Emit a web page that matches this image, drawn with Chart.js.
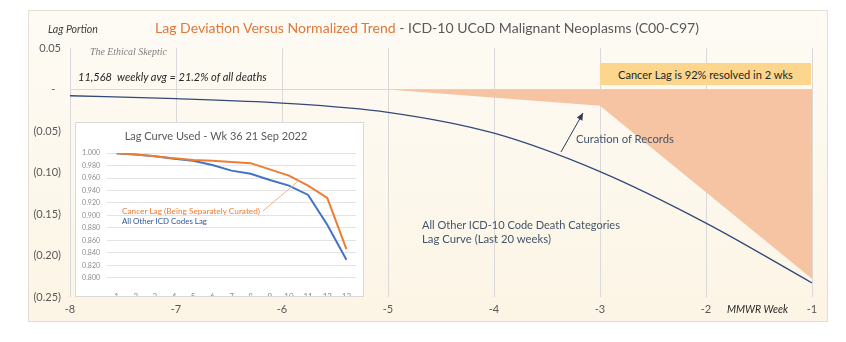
<!DOCTYPE html>
<html><head><meta charset="utf-8">
<script src="https://cdn.jsdelivr.net/npm/chart.js@4.4.0/dist/chart.umd.min.js"></script>
<style>
html,body{margin:0;padding:0;background:#fff;overflow:hidden;}
#wrap{position:relative;width:846px;height:342px;font-family:Lato,'Open Sans',sans-serif;}
#main{position:absolute;left:0;top:0;}
.t{position:absolute;white-space:nowrap;line-height:1;transform:translateY(-50%);}
#inset{position:absolute;left:75px;top:122px;width:289px;height:175px;border:1px solid #D9D9D9;box-sizing:border-box;background:#fff;}
#insetCanvas{position:absolute;left:0;top:0;}
#cbox{position:absolute;left:600px;top:63px;width:211px;height:22px;background:#FCD68C;}
</style></head>
<body><div id="wrap">
<canvas id="main" width="846" height="342"></canvas>
<div id="cbox"></div>
<div id="inset"><canvas id="insetCanvas" width="287" height="173"></canvas></div>

<div class="t" data-w="50" style="left:48px;top:29px;font-size:11px;font-style:italic;color:#404040;">Lag Portion</div>
<div class="t" data-w="544" style="left:155px;top:28px;font-size:16px;"><span style="color:#E2773A">Lag Deviation Versus Normalized Trend</span><span style="color:#595959"> - ICD-10 UCoD Malignant Neoplasms (C00-C97)</span></div>
<div class="t" data-w="77" style="left:90px;top:52px;font-size:10px;font-style:italic;color:#808080;font-family:'Liberation Serif',serif;">The Ethical Skeptic</div>
<div class="t" data-w="189" style="left:78px;top:77px;font-size:12px;font-style:italic;color:#262626;">11,568&nbsp; weekly avg = 21.2% of all deaths</div>
<div class="t" data-w="175" style="left:618px;top:75px;font-size:12px;color:#262626;">Cancer Lag is 92% resolved in 2 wks</div>
<div class="t" data-w="98" style="left:576px;top:139px;font-size:12px;color:#44546A;">Curation of Records</div>
<div class="t" data-w="198" style="left:422px;top:225px;font-size:12px;color:#44546A;">All Other ICD-10 Code Death Categories</div>
<div class="t" data-w="129" style="left:422px;top:239px;font-size:12px;color:#44546A;">Lag Curve (Last 20 weeks)</div>
<div class="t" data-w="61" style="left:727px;top:309px;font-size:11px;font-style:italic;color:#262626;">MMWR Week</div>
<div class="t" data-w="138" style="left:122px;top:211px;font-size:9px;color:#ED7D31;">Cancer Lag (Being Separately Curated)</div>
<div class="t" data-w="85" style="left:122px;top:222px;font-size:9px;color:#2F5597;">All Other ICD Codes Lag</div>
</div>
<script>
// ---- main chart data ----
const weeks = [-8, -7, -6, -5, -4, -3, -2, -1];
const otherCodesLag = [-0.0075, -0.0110, -0.0163, -0.0275, -0.0527, -0.0990, -0.1610, -0.2330];
const cancerWeeks = [-5, -3, -1];
const cancerLag = [0, -0.0195, -0.228];
const xTickValues = [-8, -7, -6, -5, -4, -3, -2, -1];
// ---- inset chart data ----
const lagWeeks = ['1','2','3','4','5','6','7','8','9','10','11','12','13'];
const cancerCurve = [1.000, 0.998, 0.995, 0.992, 0.989, 0.988, 0.986, 0.984, 0.974, 0.964, 0.948, 0.928, 0.846];
const otherCurve  = [1.000, 0.998, 0.995, 0.991, 0.988, 0.981, 0.972, 0.967, 0.957, 0.948, 0.933, 0.885, 0.829];

document.querySelectorAll('[data-w]').forEach(el=>{
  const target=parseFloat(el.dataset.w);
  const w=el.getBoundingClientRect().width;
  const fs=parseFloat(getComputedStyle(el).fontSize);
  if(w>0) el.style.fontSize=(fs*target/w).toFixed(2)+'px';
});

const FONT='Lato';
const fmt = v => {
  if (Math.abs(v) < 1e-9) return '-  ';
  if (v < 0) return '(' + Math.abs(v).toFixed(2) + ')';
  return v.toFixed(2);
};

const bgPlugin = {
  id:'bg',
  beforeDraw(chart){
    const c=chart.ctx;
    c.save();
    c.fillStyle='#fff';c.fillRect(0,0,chart.width,chart.height);
    const g=c.createLinearGradient(0,10,0,321);
    g.addColorStop(0,'#FEFBF5');g.addColorStop(1,'#FCF5E5');
    c.fillStyle=g;c.fillRect(28,10,799,311);
    c.strokeStyle='#E4DFD4';c.lineWidth=1;c.strokeRect(28.5,10.5,799,311);
    c.restore();
  }
};
const arrowPlugin = {
  id:'arrow',
  afterDatasetsDraw(chart,args,opts){
    const xs=chart.scales.x, ys=chart.scales.y, c=chart.ctx;
    const x1=xs.getPixelForValue(opts.from[0]), y1=ys.getPixelForValue(opts.from[1]);
    const x2=xs.getPixelForValue(opts.to[0]), y2=ys.getPixelForValue(opts.to[1]);
    c.save();
    c.strokeStyle=opts.color;c.fillStyle=opts.color;c.lineWidth=1;
    c.beginPath();c.moveTo(x1,y1);c.lineTo(x2,y2);c.stroke();
    const a=Math.atan2(y2-y1,x2-x1), L=7, W=3.2;
    c.beginPath();
    c.moveTo(x2,y2);
    c.lineTo(x2-L*Math.cos(a)+W*Math.sin(a), y2-L*Math.sin(a)-W*Math.cos(a));
    c.lineTo(x2-L*Math.cos(a)-W*Math.sin(a), y2-L*Math.sin(a)+W*Math.cos(a));
    c.closePath();c.fill();
    c.restore();
  }
};

new Chart(document.getElementById('main'),{
  type:'line',
  data:{datasets:[
    {data:weeks.map((w,i)=>({x:w,y:otherCodesLag[i]})),borderColor:'#34497A',borderWidth:1.3,pointRadius:0,cubicInterpolationMode:'monotone',fill:false},
    {data:cancerWeeks.map((w,i)=>({x:w,y:cancerLag[i]})),borderWidth:0,borderColor:'rgba(0,0,0,0)',backgroundColor:'#F6C4A2',pointRadius:0,tension:0,fill:'origin'}
  ]},
  options:{
    responsive:false,animation:false,devicePixelRatio:1,
    layout:{padding:{left:0,top:48,right:34,bottom:20}},
    plugins:{legend:{display:false},tooltip:{enabled:false},
      arrow:{from:[-3.368,-0.0753],to:[-3.16,-0.0283],color:'#2E3B55'}},
    scales:{
      x:{type:'linear',min:-8,max:-1,
        afterBuildTicks:s=>{s.ticks=xTickValues.map(v=>({value:v}));},
        ticks:{padding:6,color:'#595959',font:{family:FONT,size:11},callback:v=>String(v)},
        grid:{color:'#D9D9D9',drawTicks:false},border:{display:false},
        afterFit:s=>{s.height=25;}},
      y:{min:-0.25,max:0.05,
        ticks:{stepSize:0.05,padding:9,color:'#595959',font:{family:FONT,size:11},callback:fmt},
        grid:{color:c=>(c.tick && Math.abs(c.tick.value)<1e-9)?'#D9D9D9':'rgba(0,0,0,0)',drawTicks:false},
        border:{display:false},
        afterFit:s=>{s.width=70;}}
    }
  },
  plugins:[bgPlugin,arrowPlugin]
});

const leaderPlugin = {
  id:'leader',
  afterDatasetsDraw(chart,args,opts){
    const xs=chart.scales.x, ys=chart.scales.y, c=chart.ctx;
    c.save();c.strokeStyle=opts.color;c.lineWidth=1;
    c.beginPath();
    c.moveTo(xs.getPixelForValue(opts.from[0]),ys.getPixelForValue(opts.from[1]));
    c.lineTo(xs.getPixelForValue(opts.to[0]),ys.getPixelForValue(opts.to[1]));
    c.stroke();c.restore();
  }
};

new Chart(document.getElementById('insetCanvas'),{
  type:'line',
  data:{labels:lagWeeks,datasets:[
    {data:cancerCurve,borderColor:'#ED7D31',borderWidth:2,pointRadius:0,tension:0},
    {data:otherCurve,borderColor:'#4472C4',borderWidth:2,pointRadius:0,tension:0}
  ]},
  options:{
    responsive:false,animation:false,devicePixelRatio:1,
    layout:{padding:{left:0,right:7,top:0,bottom:0}},
    plugins:{legend:{display:false},tooltip:{enabled:false},
      title:{display:true,text:'Lag Curve Used - Wk 36 21 Sep 2022',color:'#595959',font:{family:FONT,size:11,weight:'normal'},padding:{top:7,bottom:10}},
      leader:{from:[7.63,0.907],to:[9.56,0.957],color:'#F4B183'}},
    scales:{
      x:{type:'category',offset:true,grid:{display:false},border:{display:false},
        ticks:{padding:6,color:'#8C8C8C',font:{family:FONT,size:8},maxRotation:0,autoSkip:false},
        afterFit:s=>{s.height=18.3;}},
      y:{min:0.8,max:1.0,
        ticks:{stepSize:0.02,padding:7,color:'#8C8C8C',font:{family:FONT,size:7},callback:v=>v.toFixed(3)},
        grid:{color:'#E3E3E3',drawTicks:false},border:{display:false},
        afterFit:s=>{s.width=31;}}
    }
  },
  plugins:[leaderPlugin]
});
</script>
</body></html>
